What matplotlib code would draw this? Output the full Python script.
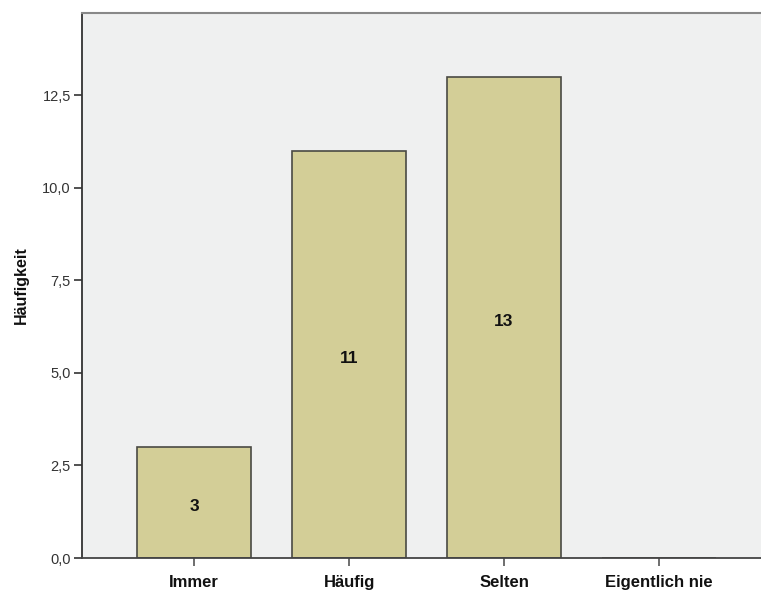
import matplotlib
matplotlib.use("Agg")
import matplotlib.pyplot as plt
from matplotlib.ticker import FuncFormatter

categories = ["Immer", "Häufig", "Selten", "Eigentlich nie"]
counts = [3, 11, 13, 0]
y_ticks = [0.0, 2.5, 5.0, 7.5, 10.0, 12.5]

plt.rcParams["font.family"] = ["Liberation Sans", "DejaVu Sans"]

fig = plt.figure(figsize=(7.61, 5.90), dpi=100)
ax = fig.add_axes([0.1078, 0.0542, 0.8922, 0.9238])
ax.set_facecolor("#EFF0F0")

x = list(range(len(categories)))
bars = ax.bar(x, counts, width=0.735, color="#D3CE97", edgecolor="#4A4A44",
              linewidth=1.2, zorder=2)

# count labels placed at mid-height of each bar
for xi, v in zip(x, counts):
    if v > 0:
        ax.annotate(str(v), xy=(xi, v / 2), xytext=(0, -3),
                    textcoords="offset points", ha="center", va="center",
                    fontsize=12.5, fontweight="bold", color="#111111", zorder=3)

ax.set_xlim(-0.725, 3.66)
ax.set_ylim(0, 14.72)
ax.set_xticks(x)
ax.set_xticklabels(categories, fontsize=12, fontweight="bold", color="#111111")
ax.set_yticks(y_ticks)
ax.yaxis.set_major_formatter(FuncFormatter(lambda v, p: f"{v:.1f}".replace(".", ",")))
ax.tick_params(axis="y", labelsize=10.5, labelcolor="#333333", length=6,
               width=1.2, color="#333333", pad=2)
ax.tick_params(axis="x", length=6, width=1.2, color="#555555", pad=6)

ax.set_ylabel("Häufigkeit", fontsize=11.5, fontweight="bold", color="#111111", labelpad=10)

ax.spines["left"].set_color("#333333")
ax.spines["left"].set_linewidth(1.3)
ax.spines["bottom"].set_color("#444444")
ax.spines["bottom"].set_linewidth(1.3)
ax.spines["top"].set_color("#888888")
ax.spines["top"].set_linewidth(1.5)
ax.spines["right"].set_visible(False)

fig.savefig("out.png", dpi=100)
